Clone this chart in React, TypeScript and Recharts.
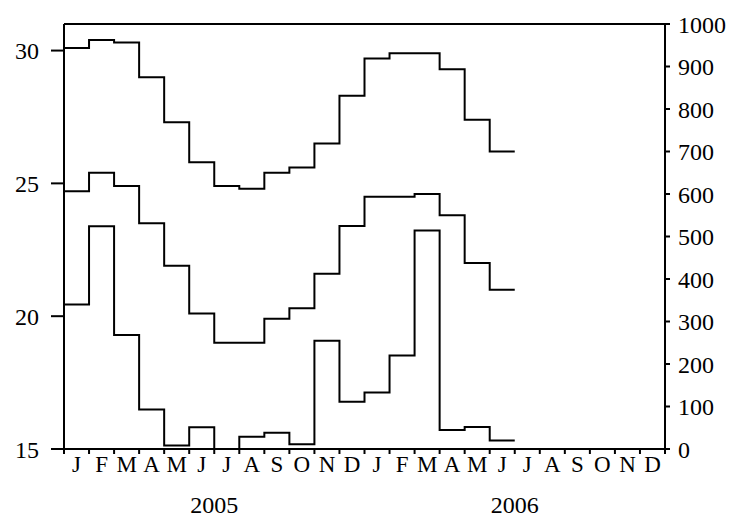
import React from 'react';
import { LineChart, Line, XAxis, YAxis, ReferenceLine } from 'recharts';

const monthLabels = ['J','F','M','A','M','J','J','A','S','O','N','D','J','F','M','A','M','J','J','A','S','O','N','D'];
const yearLabels = ['2005', '2006'];
const tempHigh = [30.1,30.4,30.3,29.0,27.3,25.8,24.9,24.8,25.4,25.6,26.5,28.3,29.7,29.9,29.9,29.3,27.4,26.2];
const tempLow = [24.7,25.4,24.9,23.5,21.9,20.1,19.0,19.0,19.9,20.3,21.6,23.4,24.5,24.5,24.6,23.8,22.0,21.0];
const rainfall = [340,524,268,93,8,51,0,29,38,11,255,111,133,220,514,45,52,20];
const leftTicks = [15, 20, 25, 30];
const rightTicks = [0,100,200,300,400,500,600,700,800,900,1000];

// step data: each value starts at month index; final point closes last step
const data = tempHigh.map((_, i) => ({ m: i, hi: tempHigh[i], lo: tempLow[i], rain: rainfall[i] }));
data.push({ m: tempHigh.length, hi: tempHigh[tempHigh.length - 1], lo: tempLow[tempLow.length - 1], rain: rainfall[rainfall.length - 1] });

const xTicks: number[] = [];
for (let i = 0; i <= monthLabels.length * 2; i++) xTicks.push(i / 2);

const FONT = '"Liberation Serif", "Times New Roman", serif';

const MonthTick = (props: any) => {
  const { x, y, payload } = props;
  const v = payload.value as number;
  if (Number.isInteger(v)) {
    return (
      <g>
        <line x1={x} x2={x} y1={y} y2={y + 5} stroke="#000" strokeWidth={2} />
        {v === 6 && (
          <text x={x} y={y + 64} textAnchor="middle" fontFamily={FONT} fontSize={24} fill="#000">{yearLabels[0]}</text>
        )}
        {v === 18 && (
          <text x={x} y={y + 64} textAnchor="middle" fontFamily={FONT} fontSize={24} fill="#000">{yearLabels[1]}</text>
        )}
      </g>
    );
  }
  const idx = Math.floor(v);
  return (
    <text x={x} y={y + 23} textAnchor="middle" fontFamily={FONT} fontSize={23} fill="#000">{monthLabels[idx]}</text>
  );
};

export default function App() {
  return (
    <div style={{ position: 'absolute', left: 0, top: 0, width: 736, height: 521, background: '#fff' }}>
      <LineChart width={736} height={521} data={data} margin={{ top: 24, right: 0, bottom: 0, left: 0 }}>
        <XAxis
          dataKey="m"
          type="number"
          domain={[0, 24]}
          ticks={xTicks}
          interval={0}
          tick={<MonthTick />}
          tickLine={false}
          tickSize={0}
          tickMargin={0}
          height={72}
          axisLine={{ stroke: '#000', strokeWidth: 2 }}
          allowDecimals
        />
        <YAxis
          yAxisId="left"
          orientation="left"
          domain={[15, 31]}
          ticks={leftTicks}
          width={64}
          tickSize={13}
          tickMargin={12}
          axisLine={{ stroke: '#000', strokeWidth: 2 }}
          tickLine={{ stroke: '#000', strokeWidth: 2 }}
          tick={{ fill: '#000', fontSize: 24, fontFamily: FONT }}
          allowDataOverflow
        />
        <YAxis
          yAxisId="right"
          orientation="right"
          domain={[0, 1000]}
          ticks={rightTicks}
          width={71}
          tickSize={5}
          tickMargin={8}
          axisLine={{ stroke: '#000', strokeWidth: 2 }}
          tickLine={{ stroke: '#000', strokeWidth: 2 }}
          tick={{ fill: '#000', fontSize: 24, fontFamily: FONT }}
          allowDataOverflow
        />
        <ReferenceLine yAxisId="left" y={31} stroke="#000" strokeWidth={2} />
        <Line yAxisId="left" dataKey="hi" type="stepAfter" stroke="#000" strokeWidth={2} dot={false} isAnimationActive={false} />
        <Line yAxisId="left" dataKey="lo" type="stepAfter" stroke="#000" strokeWidth={2} dot={false} isAnimationActive={false} />
        <Line yAxisId="right" dataKey="rain" type="stepAfter" stroke="#000" strokeWidth={2} dot={false} isAnimationActive={false} />
      </LineChart>
    </div>
  );
}
